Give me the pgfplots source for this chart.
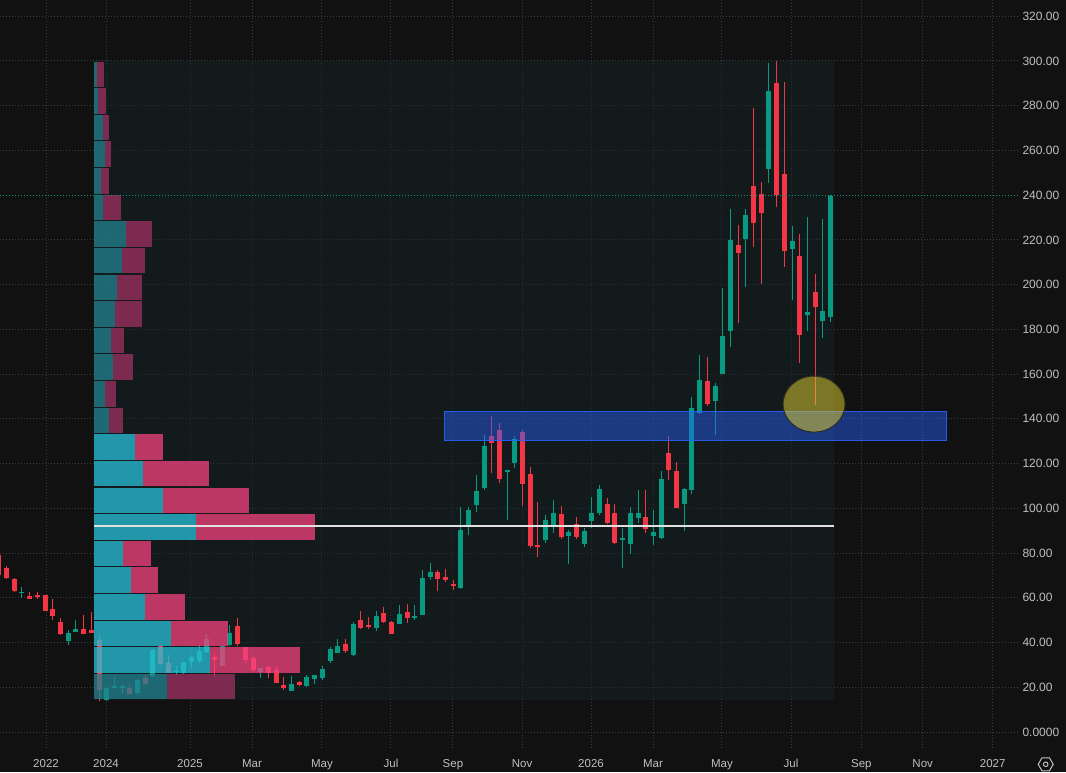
\documentclass[border=0pt]{standalone}
\usepackage{pgfplots}
\pgfplotsset{compat=1.18}
\usepackage{pgfplotstable}
\usepackage{fontspec}
\setmainfont{Liberation Sans}
\definecolor{bgc}{RGB}{17,17,17}
\definecolor{regc}{RGB}{22,36,38}
\definecolor{gridc}{RGB}{58,60,64}
\definecolor{upc}{RGB}{8,153,129}
\definecolor{dnc}{RGB}{242,54,69}
\definecolor{labc}{RGB}{190,192,196}
\definecolor{vaup}{RGB}{40,194,217}
\definecolor{vadn}{RGB}{247,66,127}
\definecolor{ouup}{RGB}{33,131,144}
\definecolor{oudn}{RGB}{160,48,97}
\definecolor{boxc}{RGB}{41,98,255}
\definecolor{ellc}{RGB}{230,212,50}
\definecolor{pocc}{RGB}{225,225,225}
\definecolor{elld}{RGB}{45,45,32}

\pgfplotstableread{
j o h l c
3 62.3 65.0 60.1 62.7
9 40.8 45.6 39.0 44.1
10 44.8 50.1 44.6 45.9
14 14.2 20.3 13.9 19.8
15 19.9 24.7 19.5 20.4
16 19.9 21.4 17.6 20.3
18 17.6 23.7 17.0 23.2
20 25.0 37.0 24.5 36.7
23 26.8 29.5 25.6 27.4
24 26.5 31.5 26.0 31.3
25 31.3 34.4 28.6 33.4
26 31.9 38.9 31.0 36.3
27 35.9 43.7 35.2 41.6
29 29.5 38.8 29.3 38.5
30 39.0 47.8 38.5 44.4
34 27.0 28.6 24.3 28.5
38 18.5 25.2 18.3 21.5
40 20.7 25.5 20.1 24.7
41 23.7 25.6 21.5 25.4
42 24.3 29.4 23.3 28.2
43 31.7 38.2 31.0 37.1
44 35.5 41.6 35.2 38.5
46 34.4 49.4 34.2 48.3
49 46.3 53.9 45.3 51.9
52 48.3 56.6 48.1 52.8
54 51.3 56.8 49.9 51.9
55 52.3 72.4 52.1 69.0
56 69.4 75.7 67.8 71.7
60 64.4 100.4 63.8 90.1
61 92.1 100.4 88.0 99.3
62 101.5 114.9 98.5 107.9
63 108.9 132.8 108.2 127.9
66 116.4 117.3 94.8 117.2
67 120.4 132.3 117.9 130.9
71 85.8 97.0 84.6 94.8
72 92.1 103.7 89.1 97.8
74 87.6 90.3 75.1 89.4
76 84.1 91.1 82.9 90.0
77 94.5 105.2 91.1 97.8
78 98.1 110.4 97.0 108.5
81 85.8 91.1 73.2 86.6
82 84.1 100.4 79.6 97.8
83 95.5 108.2 93.6 97.8
85 87.6 99.3 83.6 89.4
86 86.6 116.8 86.4 113.1
89 101.9 109.0 90.0 108.6
90 108.2 149.8 106.5 144.7
91 142.5 168.6 142.3 157.4
93 148.1 156.2 132.8 154.7
94 160.1 198.4 160.0 177.0
95 179.4 233.7 172.3 219.8
97 220.4 233.7 198.8 231.2
100 251.8 299.2 245.6 286.7
103 215.9 226.4 193.1 219.6
105 186.4 230.4 179.4 187.9
107 183.8 229.4 176.3 188.2
108 185.7 239.9 183.4 239.7
}\upt

\pgfplotstableread{
j o h l c
0 79.1 80.5 69.5 70.2
1 73.5 74.2 68.5 69.0
2 68.4 68.8 62.5 63.0
4 60.8 62.4 59.4 59.6
5 61.2 62.4 59.3 60.6
6 61.2 61.4 54.0 54.1
7 55.0 59.5 50.1 52.0
8 49.0 50.8 43.5 43.8
11 46.0 52.3 43.8 44.0
12 45.7 53.8 44.2 44.4
13 41.1 43.4 13.9 18.8
17 19.8 21.5 16.8 17.2
19 24.3 25.6 21.0 21.5
21 38.5 38.8 30.0 30.4
22 31.0 34.4 26.2 26.5
28 33.7 35.2 24.7 32.2
31 47.4 50.8 38.5 39.3
32 38.0 38.2 30.7 32.3
33 32.9 34.4 26.7 27.7
35 28.9 29.4 24.2 26.5
36 27.7 29.4 21.8 22.0
37 21.0 24.4 18.8 19.5
39 22.5 22.8 20.6 21.0
45 39.3 41.6 35.5 36.2
47 50.1 54.2 46.2 46.6
48 47.8 51.5 46.2 47.4
50 53.3 56.0 48.8 49.3
51 49.3 49.5 43.6 43.8
53 53.8 57.3 48.8 50.8
57 71.7 72.4 62.9 68.3
58 69.4 73.0 67.1 68.0
59 66.2 68.0 63.6 65.6
64 132.3 141.3 115.9 129.4
65 135.0 138.3 111.2 113.1
68 134.1 135.0 101.1 110.9
69 115.3 118.3 82.1 83.2
70 83.6 103.0 78.4 82.7
73 97.3 101.0 86.1 87.0
75 93.0 96.0 86.5 87.0
79 101.9 104.5 93.0 93.6
80 97.8 101.9 84.1 84.6
84 96.3 108.2 88.8 90.6
87 124.9 132.3 112.7 117.1
88 116.8 120.8 100.0 100.1
92 156.9 167.8 145.8 146.5
96 217.7 226.7 183.0 214.3
98 244.1 278.8 217.0 227.7
99 240.5 245.9 200.5 232.2
101 290.3 300.0 234.5 240.1
102 249.5 290.4 207.8 215.1
104 213.0 222.7 164.8 177.5
106 196.9 204.8 146.2 190.2
}\dnt

% volume profile, value-area rows
\pgfplotstableread{
y up tot
32.16 116 206
44.06 77 134
55.97 51 91
67.87 37 64
79.78 29 57
91.68 102 221
103.58 69 155
115.49 49 115
127.39 41 69
}\profva

% volume profile, rows outside the value area
\pgfplotstableread{
y up tot
20.25 73 141
139.30 15 29
151.20 11 22
163.10 19 39
175.01 17 30
186.91 21 48
198.82 23 48
210.72 28 51
222.63 32 58
234.53 9 27
246.43 7 15
258.34 11 17
270.24 9 15
282.15 4 12
294.05 3 10
}\profout

\begin{document}
\begin{tikzpicture}
\useasboundingbox (0,0) rectangle (1066pt,772pt);
\fill[bgc] (0,0) rectangle (1066pt,772pt);
\begin{axis}[
  at={(0pt,24pt)}, anchor=south west, scale only axis,
  width=1018pt, height=748pt,
  xmin=0.143, xmax=132.35, ymin=-7.153, ymax=327.27,
  axis line style={draw=none}, major tick length=0pt,
  xtick={6.12,13.91,24.82,32.87,41.96,50.92,58.97,67.94,76.9,84.95,93.9,102.87,112.0,119.97,129.07},
  xticklabels={2022,2024,2025,Mar,May,Jul,Sep,Nov,2026,Mar,May,Jul,Sep,Nov,2027},
  ytick={0,20,...,320},
  yticklabels={0.0000,20.00,40.00,60.00,80.00,100.00,120.00,140.00,160.00,180.00,200.00,220.00,240.00,260.00,280.00,300.00,320.00},
  yticklabel pos=right,
  grid=major,
  major grid style={draw=gridc, line width=1pt, dash pattern=on 1pt off 2pt},
  tick label style={text=labc},
  yticklabel style={font=\fontsize{12}{14}\selectfont, anchor=west, xshift=1pt},
  xticklabel style={font=\fontsize{11.5}{14}\selectfont, anchor=base, yshift=-19.1pt},
]
\fill[regc, fill opacity=0.5] (axis cs:12.35,14.3) rectangle (axis cs:108.45,300);

% wicks
\addplot[draw=none, mark=none, forget plot, error bars/.cd, y dir=both, y explicit, error mark=none,
  error bar style={draw=upc, line width=1pt, solid}]
  table[x=j, y expr={(\thisrow{h}+\thisrow{l})/2}, y error plus expr={(\thisrow{h}-\thisrow{l})/2}, y error minus expr={(\thisrow{h}-\thisrow{l})/2}] {\upt};
\addplot[draw=none, mark=none, forget plot, error bars/.cd, y dir=both, y explicit, error mark=none,
  error bar style={draw=dnc, line width=1pt, solid}]
  table[x=j, y expr={(\thisrow{h}+\thisrow{l})/2}, y error plus expr={(\thisrow{h}-\thisrow{l})/2}, y error minus expr={(\thisrow{h}-\thisrow{l})/2}] {\dnt};
% bodies
\addplot[draw=none, mark=none, forget plot, error bars/.cd, y dir=both, y explicit, error mark=none,
  error bar style={draw=upc, line width=5pt, solid}]
  table[x=j, y expr={(\thisrow{o}+\thisrow{c})/2}, y error plus expr={max(abs(\thisrow{o}-\thisrow{c})/2,0.25)}, y error minus expr={max(abs(\thisrow{o}-\thisrow{c})/2,0.25)}] {\upt};
\addplot[draw=none, mark=none, forget plot, error bars/.cd, y dir=both, y explicit, error mark=none,
  error bar style={draw=dnc, line width=5pt, solid}]
  table[x=j, y expr={(\thisrow{o}+\thisrow{c})/2}, y error plus expr={max(abs(\thisrow{o}-\thisrow{c})/2,0.25)}, y error minus expr={max(abs(\thisrow{o}-\thisrow{c})/2,0.25)}] {\dnt};

% volume profile
\addplot[draw=none, mark=none, forget plot, error bars/.cd, x dir=both, x explicit, error mark=none,
  error bar style={draw=vaup, draw opacity=0.75, line width=25.4pt, solid}]
  table[y=y, x expr={12.4+\thisrow{up}/15.4}, x error plus expr={\thisrow{up}/15.4}, x error minus expr={\thisrow{up}/15.4}] {\profva};
\addplot[draw=none, mark=none, forget plot, error bars/.cd, x dir=both, x explicit, error mark=none,
  error bar style={draw=vadn, draw opacity=0.75, line width=25.4pt, solid}]
  table[y=y, x expr={12.4+(\thisrow{up}+\thisrow{tot})/15.4}, x error plus expr={(\thisrow{tot}-\thisrow{up})/15.4}, x error minus expr={(\thisrow{tot}-\thisrow{up})/15.4}] {\profva};
\addplot[draw=none, mark=none, forget plot, error bars/.cd, x dir=both, x explicit, error mark=none,
  error bar style={draw=ouup, draw opacity=0.75, line width=25.4pt, solid}]
  table[y=y, x expr={12.4+\thisrow{up}/15.4}, x error plus expr={\thisrow{up}/15.4}, x error minus expr={\thisrow{up}/15.4}] {\profout};
\addplot[draw=none, mark=none, forget plot, error bars/.cd, x dir=both, x explicit, error mark=none,
  error bar style={draw=oudn, draw opacity=0.75, line width=25.4pt, solid}]
  table[y=y, x expr={12.4+(\thisrow{up}+\thisrow{tot})/15.4}, x error plus expr={(\thisrow{tot}-\thisrow{up})/15.4}, x error minus expr={(\thisrow{tot}-\thisrow{up})/15.4}] {\profout};

% point of control
\addplot[draw=pocc, line width=1.5pt, forget plot] coordinates {(12.4,92.1) (108.45,92.1)};
% last price line
\addplot[draw=upc, line width=1pt, dash pattern=on 1pt off 2pt, forget plot] coordinates {(0.143,239.7) (132.35,239.7)};

% annotations
\filldraw[fill=boxc, fill opacity=0.45, draw=boxc, draw opacity=0.9, line width=1pt]
  (axis cs:57.93,130.5) rectangle (axis cs:123.0,143.1);
\filldraw[fill=ellc, fill opacity=0.5, draw=elld, line width=1pt]
  (axis cs:105.86,146.6) ellipse [x radius=31pt, y radius=28pt];
\end{axis}
% settings icon
\draw[labc, line width=1pt] (1045.7pt,7.7pt) +(0:7.5pt) -- +(60:7.5pt) -- +(120:7.5pt) -- +(180:7.5pt) -- +(240:7.5pt) -- +(300:7.5pt) -- cycle;
\draw[labc, line width=1pt] (1045.7pt,7.7pt) circle (2.3pt);
\end{tikzpicture}
\end{document}
